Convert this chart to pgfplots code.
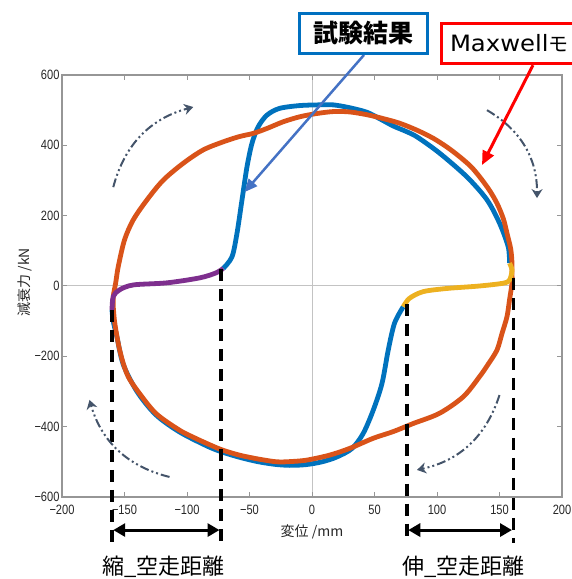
\documentclass[border=0pt]{standalone}
\usepackage{fontspec}
\usepackage{pgfplots}
\pgfplotsset{compat=1.18}
\usetikzlibrary{arrows.meta}
\setmainfont{Liberation Sans}
\newfontfamily\jp{Noto Sans CJK JP}
\newfontfamily\wide[FakeStretch=1.08]{DejaVu Sans}
\newfontfamily\narrow[FakeStretch=0.82]{Liberation Sans}
\definecolor{testblue}{RGB}{0,114,189}
\definecolor{maxorange}{RGB}{217,83,25}
\definecolor{gapyellow}{RGB}{237,177,32}
\definecolor{gappurple}{RGB}{126,47,142}
\definecolor{framegray}{RGB}{150,150,150}
\definecolor{zerogray}{RGB}{195,195,195}
\definecolor{calloutblue}{RGB}{0,112,192}
\definecolor{pointerblue}{RGB}{68,114,196}
\definecolor{rotgray}{RGB}{68,84,106}

\begin{document}
\begin{tikzpicture}
\begin{axis}[
  scale only axis, width=500pt, height=422pt,
  xmin=-200, xmax=200, ymin=-600, ymax=600,
  xtick={-200,-150,...,200}, ytick={-600,-400,...,600},
  xticklabels={−200,−150,−100,−50,0,50,100,150,200},
  yticklabels={−600,−400,−200,0,200,400,600},
  extra x ticks={0}, extra y ticks={0},
  extra x tick labels={}, extra y tick labels={},
  extra tick style={grid=major, major grid style={zerogray, line width=1pt}},
  tick align=inside, tick pos=both, major tick length=5pt,
  axis line style={framegray, line width=1.2pt},
  tick style={framegray, line width=1pt},
  ticklabel style={font=\narrow\fontsize{13.5}{15}\selectfont, text=black!85},
  xticklabel style={yshift=-5pt},
  yticklabel style={xshift=1pt},
  clip=false,
  xlabel={変位 /mm}, ylabel={減衰力 /kN},
  xlabel style={font=\jp\fontsize{14}{16}\selectfont, text=black!85, at={(axis cs:0,-700)}, anchor=center},
  ylabel style={font=\jp\fontsize{14}{16}\selectfont, text=black!85, at={(axis cs:-230,11)}, anchor=center},
]

% measured response (test)
\addplot[testblue, line width=4.8pt, smooth] coordinates {
 (-71,50) (-64,83) (-60,150) (-56,245) (-52,339) (-48,406) (-43,453) (-36,486)
 (-26,505) (-10,513) (5,515) (17,515) (30,507) (44,494) (55,474) (65,455)
 (75,440) (84,424) (102,378) (124,310) (140,245) (150,179) (157,111) (158,65)
};
\addplot[testblue, line width=4.8pt, smooth] coordinates {
 (73,-59) (66,-106) (61,-182) (56,-277) (49,-353) (41,-419) (32,-462) (20,-486)
 (8,-500) (-5,-508) (-18,-510) (-30,-507) (-44,-499) (-58,-487) (-72,-472)
 (-84,-455) (-106,-415) (-125,-366) (-140,-300) (-151,-223) (-156,-146)
 (-159,-100) (-160,-68)
};

% Maxwell model loop
\addplot[maxorange, line width=4.8pt, smooth] coordinates {
 (-159,-59) (-159,-30) (-157,10) (-155,55) (-150,131) (-143,188) (-132,245)
 (-119,301) (-103,349) (-87,387) (-71,410) (-58,425) (-47,434) (-36,448)
 (-23,467) (-10,481) (3,490) (17,496) (30,495) (44,487) (57,476) (70,463)
 (84,443) (97,420) (108,395) (118,368) (127,340) (134,311) (142,272) (148,235)
 (153,192) (156,150) (159,105) (160,65) (160,35) (160,8) (158,-40) (156,-87)
 (152,-135) (148,-182) (141,-222) (134,-258) (121,-315) (102,-362) (81,-391)
 (65,-414) (49,-433) (30,-462) (14,-481) (-4,-495) (-16,-499) (-28,-500)
 (-43,-492) (-58,-481) (-72,-466) (-84,-448) (-95,-430) (-106,-410) (-125,-362)
 (-140,-296) (-147,-258) (-151,-220) (-154,-180) (-156,-144) (-158,-100) (-159,-59)
};

% free-travel segments
\addplot[gappurple, line width=4.8pt, smooth] coordinates {
 (-160,-68) (-159,-30) (-154,-11) (-143,3) (-116,9) (-90,23) (-77,37) (-71,50)
};
\addplot[gapyellow, line width=4.8pt, smooth] coordinates {
 (158,65) (160,45) (158,17) (153,8) (134,0) (108,-7) (89,-16) (78,-35) (73,-59)
};

% free-travel markers
\begin{scope}[black, line width=3.5pt, dash pattern=on 12pt off 8pt]
 \draw (axis cs:-160,-68) -- (axis cs:-160,-731);
 \draw (axis cs:-73,48) -- (axis cs:-73,-731);
 \draw (axis cs:76,-50) -- (axis cs:76,-731);
 \draw (axis cs:161,23) -- (axis cs:161,-731);
\end{scope}
\draw[black, line width=3pt, {Triangle[width=13pt,length=12pt]}-{Triangle[width=13pt,length=12pt]}]
 (axis cs:-159,-694) -- (axis cs:-74,-694);
\draw[black, line width=3pt, {Triangle[width=13pt,length=12pt]}-{Triangle[width=13pt,length=12pt]}]
 (axis cs:77,-694) -- (axis cs:160,-694);
\node[font=\jp\fontsize{22}{24}\selectfont] at (axis cs:-119,-799) {縮\_空走距離};
\node[font=\jp\fontsize{22}{24}\selectfont] at (axis cs:121,-799) {伸\_空走距離};

% direction of travel
\begin{scope}[rotgray, line width=2pt, dash pattern=on 9pt off 3pt on 2pt off 3pt on 2pt off 3pt,
  -{Stealth[width=11pt,length=9pt]}]
 \draw (axis cs:-159,281) to[bend left=30] (axis cs:-95,509);
 \draw (axis cs:140,500) to[bend left=30] (axis cs:180,250);
 \draw (axis cs:150,-310) to[bend left=30] (axis cs:84,-523);
 \draw (axis cs:-114,-543) to[bend left=30] (axis cs:-178,-324);
\end{scope}

% callouts
\draw[pointerblue, line width=2.5pt, -{Triangle[width=11pt,length=13pt]}]
 (axis cs:41.6,657) -- (axis cs:-54,267);
\draw[red, line width=3pt, -{Triangle[width=12pt,length=14pt]}]
 (axis cs:176.8,628) -- (axis cs:136,344);
\node[draw=calloutblue, line width=3pt, fill=white, font=\jp\bfseries\fontsize{25}{28}\selectfont,
  minimum width=128pt, minimum height=40pt, inner sep=0pt] at (axis cs:41,718) {試験結果};
\node[draw=red, line width=3pt, fill=white, anchor=west, text width=150pt, align=left,
  minimum height=40pt, inner xsep=9pt, inner ysep=0pt]
  at (axis cs:102,690) {{\wide\fontsize{22.5}{26}\selectfont Maxwell}{\jp\fontsize{20}{26}\selectfont モ}};
\end{axis}
\pgfresetboundingbox
\path[use as bounding box] ([xshift=-62pt,yshift=-82pt]current axis.south west)
  rectangle ([xshift=9pt,yshift=75pt]current axis.north east);
\end{tikzpicture}
\end{document}
